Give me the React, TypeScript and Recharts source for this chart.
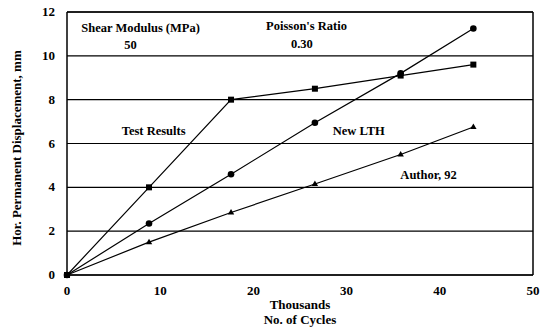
import React from 'react';
import { LineChart, Line, XAxis, YAxis, CartesianGrid, ReferenceLine, ReferenceDot } from 'recharts';

const cycles = [0, 8.8, 17.6, 26.6, 35.8, 43.6];
const testResults = [0, 4.0, 8.0, 8.5, 9.1, 9.6];
const newLTH = [0, 2.35, 4.6, 6.95, 9.2, 11.25];
const author92 = [0, 1.5, 2.85, 4.15, 5.5, 6.75];

const xTicks = [0, 10, 20, 30, 40, 50];
const yTicks = [0, 2, 4, 6, 8, 10, 12];

const data = cycles.map((x, i) => ({
  x,
  test: testResults[i],
  lth: newLTH[i],
  author: author92[i],
}));

const FONT = "'Liberation Serif', 'DejaVu Serif', serif";
const textStyle = { fontFamily: FONT, fontWeight: 700, fill: '#000' };

const SquareDot = (props: any) => {
  const { cx, cy, index } = props;
  if (cx == null || cy == null) return null;
  return <rect key={index} x={cx - 3} y={cy - 3} width={6} height={6} fill="#000" />;
};

const CircleDot = (props: any) => {
  const { cx, cy, index } = props;
  if (cx == null || cy == null) return null;
  return <circle key={index} cx={cx} cy={cy} r={3.3} fill="#000" />;
};

const TriDot = (props: any) => {
  const { cx, cy, index } = props;
  if (cx == null || cy == null) return null;
  return <path key={index} d={`M${cx},${cy - 3.5}L${cx + 3.2},${cy + 2}L${cx - 3.2},${cy + 2}Z`} fill="#000" />;
};

const XTick = (props: any) => {
  const { x, y, payload } = props;
  return (
    <text x={x} y={y + 12} textAnchor="middle" fontSize={13} style={textStyle}>
      {payload.value}
    </text>
  );
};

const YTick = (props: any) => {
  const { x, y, payload } = props;
  return (
    <text x={x - 4} y={y + 4} textAnchor="end" fontSize={13} style={textStyle}>
      {payload.value}
    </text>
  );
};

const note = (value: string, x: number, y: number) => (
  <ReferenceDot
    key={value}
    x={x}
    y={y}
    r={0}
    stroke="none"
    label={(p: any) => {
      const vb = p.viewBox || {};
      const cx = (vb.x ?? 0) + (vb.width ?? 0) / 2;
      const cy = (vb.y ?? 0) + (vb.height ?? 0) / 2;
      return (
        <text x={cx} y={cy + 4} textAnchor="middle" fontSize={12.5} style={textStyle}>
          {value}
        </text>
      );
    }}
  />
);

export default function App() {
  return (
    <div
      style={{
        position: 'absolute',
        left: 0,
        top: 0,
        width: 543,
        height: 335,
        background: '#fff',
        fontFamily: FONT,
      }}
    >
      <LineChart width={543} height={335} data={data} margin={{ top: 12, right: 10, left: 0, bottom: 0 }}>
        <CartesianGrid vertical={false} stroke="#000" strokeWidth={1.2} />
        <XAxis
          type="number"
          dataKey="x"
          domain={[0, 50]}
          ticks={xTicks}
          stroke="#000"
          strokeWidth={1.5}
          tickLine={false}
          height={60}
          tick={XTick}
        />
        <YAxis
          type="number"
          domain={[0, 12]}
          ticks={yTicks}
          stroke="#000"
          strokeWidth={1.5}
          tickLine={false}
          width={67}
          tick={YTick}
        />
        <ReferenceLine x={50} stroke="#000" strokeWidth={1.5} />
        <ReferenceLine y={12} stroke="#000" strokeWidth={1.5} />
        <Line type="linear" dataKey="test" stroke="#000" strokeWidth={1.2} dot={SquareDot} isAnimationActive={false} />
        <Line type="linear" dataKey="lth" stroke="#000" strokeWidth={1.2} dot={CircleDot} isAnimationActive={false} />
        <Line type="linear" dataKey="author" stroke="#000" strokeWidth={1.2} dot={TriDot} isAnimationActive={false} />
        {note('Shear Modulus (MPa)', 7.9, 11.25)}
        {note('50', 6.8, 10.5)}
        {note("Poisson's Ratio", 25.7, 11.35)}
        {note('0.30', 25.2, 10.55)}
        {note('Test Results', 9.3, 6.55)}
        {note('New LTH', 31.3, 6.55)}
        {note('Author, 92', 38.8, 4.55)}
      </LineChart>
      <div
        style={{
          position: 'absolute',
          left: 240,
          top: 297,
          width: 120,
          textAlign: 'center',
          fontWeight: 700,
          fontSize: 13,
          lineHeight: '15px',
          color: '#000',
        }}
      >
        Thousands
        <br />
        No. of Cycles
      </div>
      <div
        style={{
          position: 'absolute',
          left: 17,
          top: 148,
          transform: 'translate(-50%, -50%) rotate(-90deg)',
          whiteSpace: 'nowrap',
          fontWeight: 700,
          fontSize: 13,
          color: '#000',
        }}
      >
        Hor. Permanent Displacement, mm
      </div>
    </div>
  );
}
